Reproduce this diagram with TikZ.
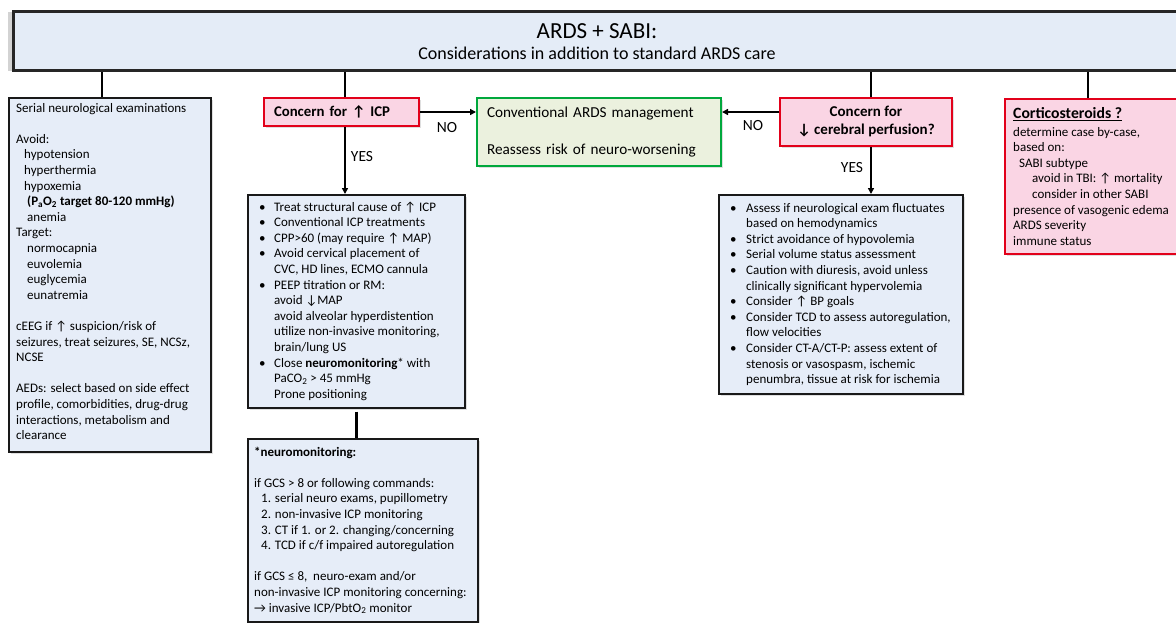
\documentclass[tikz,border=0pt]{standalone}
\usepackage{fontspec}
\setmainfont{Carlito}
\usetikzlibrary{arrows.meta,shadows,calc}
\definecolor{boxblue}{RGB}{230,237,248}
\definecolor{hdrblue}{RGB}{228,236,247}
\definecolor{pinkf}{RGB}{250,213,228}
\definecolor{redb}{RGB}{226,0,26}
\definecolor{greenf}{RGB}{235,241,222}
\definecolor{greenb}{RGB}{0,168,60}
\newcommand\bodyfont{\fontsize{13}{15.6}\selectfont}
\begin{document}
\begin{tikzpicture}[x=1pt,y=-1pt,
  bluebox/.style={draw=black!90, line width=1.6pt, fill=boxblue, anchor=north west, inner sep=0pt,
    drop shadow={shadow xshift=2pt,shadow yshift=-2pt,opacity=0.25}},
  redbox/.style={draw=redb, line width=2pt, fill=pinkf, anchor=north west, inner sep=0pt,
    drop shadow={shadow xshift=2pt,shadow yshift=-2pt,opacity=0.25}},
  greenbox/.style={draw=greenb, line width=2pt, fill=greenf, anchor=north west, inner sep=0pt,
    drop shadow={shadow xshift=2pt,shadow yshift=-2pt,opacity=0.25}},
  txt/.style={anchor=north west, inner sep=0pt, align=left, font=\bodyfont},
  conn/.style={line width=2pt, black},
  arr/.style={line width=1.8pt, black, -{Triangle[length=6pt,width=6pt]}},
  lbl/.style={font=\fontsize{15.5}{18}\selectfont, inner sep=0pt},
]
\useasboundingbox (0,0) rectangle (1176,622);
\clip (0,0) rectangle (1176,622);

% header
\node[draw=black!85, line width=2.5pt, fill=hdrblue, anchor=north west, inner sep=0pt,
  minimum width=1183pt, minimum height=59pt,
  drop shadow={shadow xshift=-5pt,shadow yshift=-1pt,opacity=0.35}] (header) at (12,10) {};
\node[font=\fontsize{23}{26}\selectfont, inner sep=0pt] (title) at (597,31) {ARDS + SABI:};
\node[font=\fontsize{18}{21}\selectfont, inner sep=0pt] (subtitle) at (597,53) {Considerations in addition to standard ARDS care};

% boxes
\node[bluebox, minimum width=202pt, minimum height=354pt] (left) at (8,97) {};
\node[redbox, minimum width=155pt, minimum height=28pt, text width=135pt, align=left, inner xsep=10pt,
  font=\fontsize{14.8}{17}\selectfont\bfseries] (icp) at (263,97) {Concern for ↑ ICP};
\node[greenbox, minimum width=244pt, minimum height=68pt, text width=224pt, align=left, inner xsep=10pt,
  font=\fontsize{15.2}{17}\selectfont] (conv) at (476,97) {Conventional ARDS management\\[19.5pt]Reassess risk of neuro-worsening};
\node[redbox, minimum width=172pt, minimum height=48pt, align=center,
  font=\fontsize{15}{18}\selectfont\bfseries] (perf) at (779,97) {Concern for\\↓ cerebral perfusion?};
\node[redbox, minimum width=196pt, minimum height=155pt] (cort) at (1004,98) {};
\node[bluebox, minimum width=217pt, minimum height=213pt] (mid) at (247,194) {};
\node[bluebox, minimum width=244pt, minimum height=199pt] (rmid) at (718,194) {};
\node[bluebox, minimum width=230pt, minimum height=183pt] (neuro) at (247,438) {};

% connectors
\draw[conn] ([xshift=-8pt]left.north) -- ([xshift=-8pt]left.north |- header.south);
\draw[conn] ([xshift=3pt]icp.north) -- ([xshift=3pt]icp.north |- header.south);
\draw[conn] ([xshift=5pt]perf.north) -- ([xshift=5pt]perf.north |- header.south);
\draw[conn] ([xshift=-15pt]cort.north) -- ([xshift=-15pt]cort.north |- header.south);
\draw[arr] (icp.east) -- (conv.west |- icp.east);
\draw[arr] (perf.west |- icp.east) -- (conv.east |- icp.east);
\draw[arr] ([xshift=3.5pt]icp.south) -- ([xshift=3.5pt]icp.south |- mid.north);
\draw[arr] ([xshift=5pt]perf.south) -- ([xshift=5pt]perf.south |- rmid.north);
\draw[line width=3pt] ([yshift=-3pt]mid.south) -- (mid.south |- neuro.north);

\node[lbl] (no1) at (447,128) {NO};
\node[lbl] (no2) at (753,126) {NO};
\node[lbl] (yes1) at (362,157) {YES};
\node[lbl] (yes2) at (852,168) {YES};

% texts
\node[txt] (lefttxt) at (16,101) {\begin{tabular}{@{}l@{}}
Serial neurological examinations\\
\\
Avoid:\\
\hspace*{8pt}hypotension\\
\hspace*{8pt}hyperthermia\\
\hspace*{8pt}hypoxemia\\
\hspace*{11pt}\textbf{(P\textsubscript{a}O\textsubscript{2} target 80-120 mmHg)}\\
\hspace*{11pt}anemia\\
Target:\\
\hspace*{11pt}normocapnia\\
\hspace*{11pt}euvolemia\\
\hspace*{11pt}euglycemia\\
\hspace*{11pt}eunatremia\\
\\
cEEG if ↑ suspicion/risk of\\
seizures, treat seizures, SE, NCSz,\\
NCSE\\
\\
AEDs: select based on side effect\\
profile, comorbidities, drug-drug\\
interactions, metabolism and\\
clearance
\end{tabular}};

\node[txt] (midtxt) at (259,200) {\begin{tabular}{@{}p{15pt}@{}l@{}}
• & Treat structural cause of ↑ ICP\\
• & Conventional ICP treatments\\
• & CPP>60 (may require ↑ MAP)\\
• & Avoid cervical placement of\\
  & CVC, HD lines, ECMO cannula\\
• & PEEP titration or RM:\\
  & avoid ↓MAP\\
  & avoid alveolar hyperdistention\\
  & utilize non-invasive monitoring,\\
  & brain/lung US\\
• & Close \textbf{neuromonitoring}* with\\
  & PaCO\textsubscript{2} > 45 mmHg\\
  & Prone positioning
\end{tabular}};

\node[txt] (rmidtxt) at (730,201) {\begin{tabular}{@{}p{16pt}@{}l@{}}
• & Assess if neurological exam fluctuates\\
  & based on hemodynamics\\
• & Strict avoidance of hypovolemia\\
• & Serial volume status assessment\\
• & Caution with diuresis, avoid unless\\
  & clinically significant hypervolemia\\
• & Consider ↑ BP goals\\
• & Consider TCD to assess autoregulation,\\
  & flow velocities\\
• & Consider CT-A/CT-P: assess extent of\\
  & stenosis or vasospasm, ischemic\\
  & penumbra, tissue at risk for ischemia
\end{tabular}};

\node[txt] (neurotxt) at (254,445) {\begin{tabular}{@{}l@{}}
\textbf{*neuromonitoring:}\\
\\
if GCS > 8 or following commands:\\
\hspace*{7pt}1. serial neuro exams, pupillometry\\
\hspace*{7pt}2. non-invasive ICP monitoring\\
\hspace*{7pt}3. CT if 1. or 2. changing/concerning\\
\hspace*{7pt}4. TCD if c/f impaired autoregulation\\
\\
if GCS ≤ 8,\ \ neuro-exam and/or\\
non-invasive ICP monitoring concerning:\\
→ invasive ICP/PbtO\textsubscript{2} monitor
\end{tabular}};

\node[anchor=west, inner sep=0pt, font=\fontsize{15.7}{18}\selectfont\bfseries] (corttitle) at (1013,114) {\underline{Corticosteroids ?}};
\node[txt] (corttxt) at (1013,125) {\begin{tabular}{@{}l@{}}
determine case by-case,\\
based on:\\
\hspace*{6pt}SABI subtype\\
\hspace*{19pt}avoid in TBI: ↑ mortality\\
\hspace*{19pt}consider in other SABI\\
presence of vasogenic edema\\
ARDS severity\\
immune status
\end{tabular}};
\end{tikzpicture}
\end{document}
